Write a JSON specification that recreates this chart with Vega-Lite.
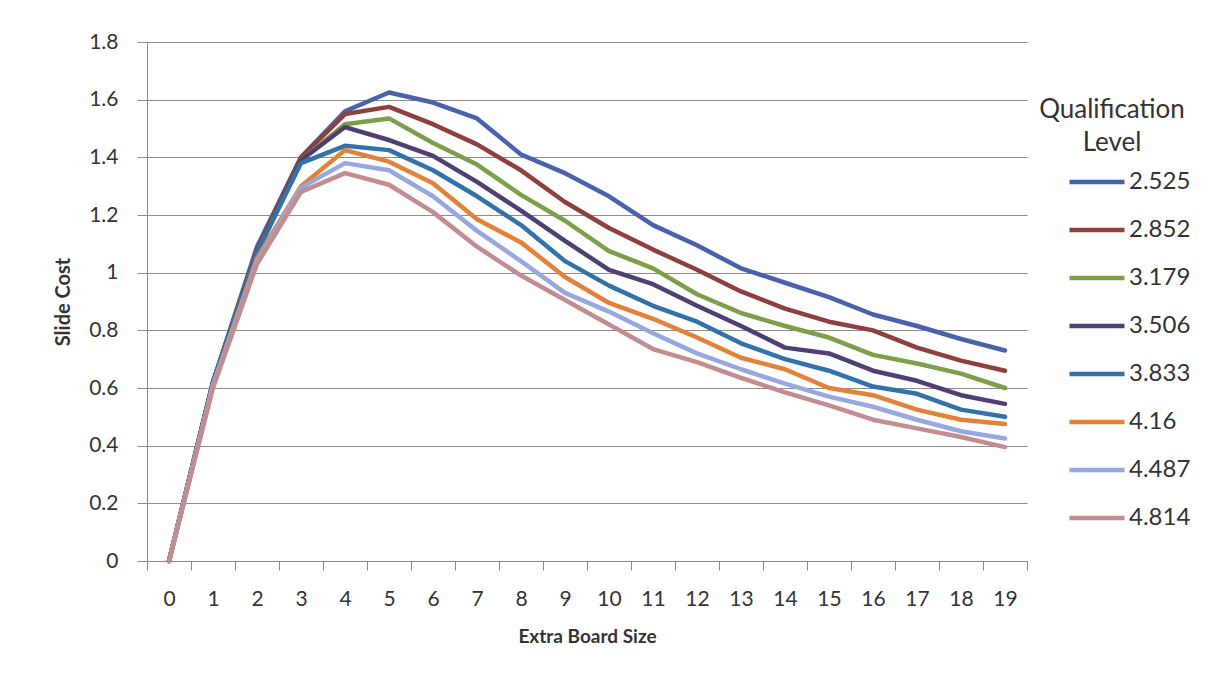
{
  "$schema": "https://vega.github.io/schema/vega-lite/v6.json",
  "width": 880,
  "height": 519,
  "autosize": {"type": "none"},
  "padding": {"left": 147, "top": 42, "right": 182, "bottom": 120},
  "background": "white",
  "config": {
    "font": "Lato",
    "view": {"stroke": null},
    "axis": {"labelFont": "Lato", "titleFont": "Lato", "labelColor": "#333333", "titleColor": "#333333", "domainColor": "#8a8a8a", "tickColor": "#8a8a8a", "gridColor": "#8c8c8c", "gridOpacity": 1}
  },
  "data": {"values": [
    {"q":"2.525","x":0,"y":0},{"q":"2.525","x":1,"y":0.62},{"q":"2.525","x":2,"y":1.09},{"q":"2.525","x":3,"y":1.40},{"q":"2.525","x":4,"y":1.56},{"q":"2.525","x":5,"y":1.625},{"q":"2.525","x":6,"y":1.59},{"q":"2.525","x":7,"y":1.535},{"q":"2.525","x":8,"y":1.41},{"q":"2.525","x":9,"y":1.345},{"q":"2.525","x":10,"y":1.265},{"q":"2.525","x":11,"y":1.165},{"q":"2.525","x":12,"y":1.095},{"q":"2.525","x":13,"y":1.015},{"q":"2.525","x":14,"y":0.965},{"q":"2.525","x":15,"y":0.915},{"q":"2.525","x":16,"y":0.855},{"q":"2.525","x":17,"y":0.815},{"q":"2.525","x":18,"y":0.77},{"q":"2.525","x":19,"y":0.73},
    {"q":"2.852","x":0,"y":0},{"q":"2.852","x":1,"y":0.62},{"q":"2.852","x":2,"y":1.08},{"q":"2.852","x":3,"y":1.40},{"q":"2.852","x":4,"y":1.55},{"q":"2.852","x":5,"y":1.575},{"q":"2.852","x":6,"y":1.515},{"q":"2.852","x":7,"y":1.445},{"q":"2.852","x":8,"y":1.355},{"q":"2.852","x":9,"y":1.245},{"q":"2.852","x":10,"y":1.155},{"q":"2.852","x":11,"y":1.08},{"q":"2.852","x":12,"y":1.01},{"q":"2.852","x":13,"y":0.935},{"q":"2.852","x":14,"y":0.875},{"q":"2.852","x":15,"y":0.83},{"q":"2.852","x":16,"y":0.80},{"q":"2.852","x":17,"y":0.74},{"q":"2.852","x":18,"y":0.695},{"q":"2.852","x":19,"y":0.66},
    {"q":"3.179","x":0,"y":0},{"q":"3.179","x":1,"y":0.62},{"q":"3.179","x":2,"y":1.07},{"q":"3.179","x":3,"y":1.39},{"q":"3.179","x":4,"y":1.515},{"q":"3.179","x":5,"y":1.535},{"q":"3.179","x":6,"y":1.45},{"q":"3.179","x":7,"y":1.375},{"q":"3.179","x":8,"y":1.27},{"q":"3.179","x":9,"y":1.18},{"q":"3.179","x":10,"y":1.075},{"q":"3.179","x":11,"y":1.015},{"q":"3.179","x":12,"y":0.925},{"q":"3.179","x":13,"y":0.86},{"q":"3.179","x":14,"y":0.815},{"q":"3.179","x":15,"y":0.775},{"q":"3.179","x":16,"y":0.715},{"q":"3.179","x":17,"y":0.685},{"q":"3.179","x":18,"y":0.65},{"q":"3.179","x":19,"y":0.60},
    {"q":"3.506","x":0,"y":0},{"q":"3.506","x":1,"y":0.62},{"q":"3.506","x":2,"y":1.07},{"q":"3.506","x":3,"y":1.39},{"q":"3.506","x":4,"y":1.505},{"q":"3.506","x":5,"y":1.46},{"q":"3.506","x":6,"y":1.405},{"q":"3.506","x":7,"y":1.315},{"q":"3.506","x":8,"y":1.215},{"q":"3.506","x":9,"y":1.11},{"q":"3.506","x":10,"y":1.01},{"q":"3.506","x":11,"y":0.96},{"q":"3.506","x":12,"y":0.885},{"q":"3.506","x":13,"y":0.815},{"q":"3.506","x":14,"y":0.74},{"q":"3.506","x":15,"y":0.72},{"q":"3.506","x":16,"y":0.66},{"q":"3.506","x":17,"y":0.625},{"q":"3.506","x":18,"y":0.575},{"q":"3.506","x":19,"y":0.545},
    {"q":"3.833","x":0,"y":0},{"q":"3.833","x":1,"y":0.62},{"q":"3.833","x":2,"y":1.07},{"q":"3.833","x":3,"y":1.38},{"q":"3.833","x":4,"y":1.44},{"q":"3.833","x":5,"y":1.425},{"q":"3.833","x":6,"y":1.355},{"q":"3.833","x":7,"y":1.265},{"q":"3.833","x":8,"y":1.165},{"q":"3.833","x":9,"y":1.04},{"q":"3.833","x":10,"y":0.955},{"q":"3.833","x":11,"y":0.885},{"q":"3.833","x":12,"y":0.83},{"q":"3.833","x":13,"y":0.755},{"q":"3.833","x":14,"y":0.70},{"q":"3.833","x":15,"y":0.66},{"q":"3.833","x":16,"y":0.605},{"q":"3.833","x":17,"y":0.58},{"q":"3.833","x":18,"y":0.525},{"q":"3.833","x":19,"y":0.50},
    {"q":"4.16","x":0,"y":0},{"q":"4.16","x":1,"y":0.61},{"q":"4.16","x":2,"y":1.05},{"q":"4.16","x":3,"y":1.30},{"q":"4.16","x":4,"y":1.425},{"q":"4.16","x":5,"y":1.385},{"q":"4.16","x":6,"y":1.31},{"q":"4.16","x":7,"y":1.185},{"q":"4.16","x":8,"y":1.105},{"q":"4.16","x":9,"y":0.985},{"q":"4.16","x":10,"y":0.895},{"q":"4.16","x":11,"y":0.84},{"q":"4.16","x":12,"y":0.775},{"q":"4.16","x":13,"y":0.705},{"q":"4.16","x":14,"y":0.665},{"q":"4.16","x":15,"y":0.60},{"q":"4.16","x":16,"y":0.575},{"q":"4.16","x":17,"y":0.525},{"q":"4.16","x":18,"y":0.49},{"q":"4.16","x":19,"y":0.475},
    {"q":"4.487","x":0,"y":0},{"q":"4.487","x":1,"y":0.61},{"q":"4.487","x":2,"y":1.04},{"q":"4.487","x":3,"y":1.295},{"q":"4.487","x":4,"y":1.38},{"q":"4.487","x":5,"y":1.355},{"q":"4.487","x":6,"y":1.265},{"q":"4.487","x":7,"y":1.145},{"q":"4.487","x":8,"y":1.04},{"q":"4.487","x":9,"y":0.93},{"q":"4.487","x":10,"y":0.865},{"q":"4.487","x":11,"y":0.79},{"q":"4.487","x":12,"y":0.72},{"q":"4.487","x":13,"y":0.665},{"q":"4.487","x":14,"y":0.615},{"q":"4.487","x":15,"y":0.57},{"q":"4.487","x":16,"y":0.535},{"q":"4.487","x":17,"y":0.49},{"q":"4.487","x":18,"y":0.45},{"q":"4.487","x":19,"y":0.425},
    {"q":"4.814","x":0,"y":0},{"q":"4.814","x":1,"y":0.60},{"q":"4.814","x":2,"y":1.03},{"q":"4.814","x":3,"y":1.28},{"q":"4.814","x":4,"y":1.345},{"q":"4.814","x":5,"y":1.305},{"q":"4.814","x":6,"y":1.21},{"q":"4.814","x":7,"y":1.09},{"q":"4.814","x":8,"y":0.99},{"q":"4.814","x":9,"y":0.905},{"q":"4.814","x":10,"y":0.82},{"q":"4.814","x":11,"y":0.735},{"q":"4.814","x":12,"y":0.69},{"q":"4.814","x":13,"y":0.635},{"q":"4.814","x":14,"y":0.585},{"q":"4.814","x":15,"y":0.54},{"q":"4.814","x":16,"y":0.49},{"q":"4.814","x":17,"y":0.46},{"q":"4.814","x":18,"y":0.43},{"q":"4.814","x":19,"y":0.395}
  ]},
  "mark": {"type": "line", "strokeWidth": 4.5, "strokeJoin": "round", "strokeCap": "round"},
  "encoding": {
    "x": {
      "field": "x", "type": "ordinal",
      "scale": {"type": "band", "paddingInner": 0, "paddingOuter": 0},
      "axis": {"title": "Extra Board Size", "labelAngle": 0, "labelFontSize": 21, "labelPadding": 18, "tickSize": 9, "tickBand": "extent", "grid": false, "titleFontSize": 19, "titleFontWeight": "bold", "titlePadding": 18}
    },
    "y": {
      "field": "y", "type": "quantitative",
      "scale": {"domain": [0, 1.8], "nice": false},
      "axis": {"title": "Slide Cost", "format": "~g", "values": [0, 0.2, 0.4, 0.6, 0.8, 1, 1.2, 1.4, 1.6, 1.8], "labelFontSize": 21, "tickSize": 10, "labelPadding": 19, "titleFontSize": 20, "titleFontWeight": "bold", "titlePadding": 15, "grid": true}
    },
    "color": {
      "field": "q", "type": "nominal",
      "scale": {"domain": ["2.525","2.852","3.179","3.506","3.833","4.16","4.487","4.814"], "range": ["#4A62AB","#8F3F3D","#7E9F4A","#503F73","#3272A8","#E2823A","#97A7DF","#C28C90"]},
      "legend": {
        "title": ["Qualification", "Level"],
        "orient": "none", "legendX": 886, "legendY": 55,
        "titleFontSize": 26, "titleFontWeight": "normal", "titleColor": "#333333", "titleLineHeight": 33, "titleAnchor": "middle", "titlePadding": -4,
        "labelFontSize": 24, "labelColor": "#333333", "labelOffset": 2,
        "symbolType": "stroke", "symbolSize": 3025, "symbolStrokeWidth": 4.5, "symbolOffset": 34,
        "rowPadding": 6
      }
    }
  }
}
